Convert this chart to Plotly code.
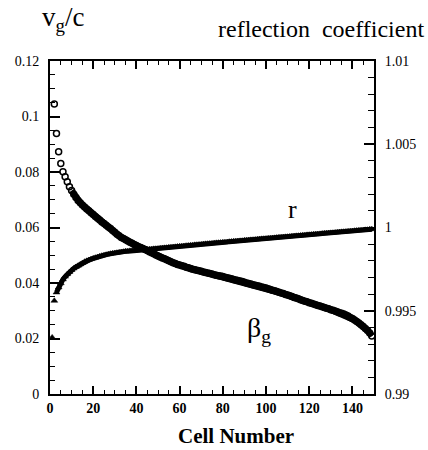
import plotly.graph_objects as go

# Cell numbers
cells_beta = list(range(2, 150))
cells_r = list(range(1, 150))

# Group velocity beta_g = v_g/c (left axis), cells 2..149
beta_g = [
    0.1045, 0.0939, 0.0873, 0.0831, 0.0801, 0.0783, 0.0765, 0.0747,
    0.0733, 0.0720, 0.0708, 0.0697,
    0.0689, 0.0681, 0.0674, 0.0667, 0.0660, 0.0653, 0.0647,
    0.0640, 0.0633, 0.0627, 0.0620, 0.0614, 0.0608, 0.0602, 0.0596,
    0.0589, 0.0583, 0.0576, 0.0570, 0.0564,
    0.0560, 0.0556, 0.0551, 0.0547, 0.0543, 0.0539, 0.0535,
    0.0531, 0.0528, 0.0524, 0.0521, 0.0517,
    0.0513, 0.0509, 0.0505, 0.0501, 0.0497,
    0.0494, 0.0490, 0.0487, 0.0484, 0.0480, 0.0477, 0.0473, 0.0470,
    0.0467, 0.0465, 0.0462, 0.0460, 0.0457, 0.0455, 0.0452,
    0.0450, 0.0448, 0.0446, 0.0444, 0.0442, 0.0440, 0.0438,
    0.0436, 0.0434, 0.0432, 0.0430, 0.0428, 0.0426, 0.0425, 0.0423,
    0.0421, 0.0419, 0.0417, 0.0415, 0.0413,
    0.0411, 0.0409, 0.0407, 0.0405, 0.0403, 0.0400, 0.0398, 0.0396,
    0.0394, 0.0392, 0.0390, 0.0388, 0.0386, 0.0384,
    0.0382, 0.0379, 0.0377, 0.0374, 0.0372, 0.0369, 0.0367, 0.0364,
    0.0362, 0.0359, 0.0357,
    0.0354, 0.0351, 0.0348, 0.0346, 0.0343, 0.0340, 0.0337,
    0.0334, 0.0332, 0.0329, 0.0327, 0.0324, 0.0322, 0.0319,
    0.0317, 0.0314, 0.0312, 0.0309, 0.0307, 0.0304, 0.0302, 0.0299,
    0.0296, 0.0293, 0.0291, 0.0288, 0.0285,
    0.0281, 0.0276, 0.0272, 0.0267,
    0.0261, 0.0256, 0.0250,
    0.0243, 0.0236, 0.0229,
    0.0220, 0.0209,
]

# Reflection coefficient r (right axis), cells 1..149
refl = [
    0.99340, 0.99560, 0.99610, 0.99640, 0.99665, 0.99688, 0.99705, 0.99720,
    0.99733, 0.99745, 0.99754, 0.99763, 0.99771, 0.99779, 0.99787, 0.99795,
    0.99800, 0.99805, 0.99810, 0.99815, 0.99819, 0.99823, 0.99827, 0.99831,
    0.99834, 0.99837, 0.99840, 0.99843, 0.99845, 0.99847, 0.99849, 0.99851,
    0.99853, 0.99855, 0.99857, 0.99858, 0.99860, 0.99861, 0.99862, 0.99863,
    0.99864, 0.99865, 0.99866, 0.99867, 0.99868,
    0.99869, 0.99870, 0.99872, 0.99873, 0.99874, 0.99876, 0.99877, 0.99878,
    0.99879, 0.99881, 0.99882, 0.99883, 0.99884, 0.99886, 0.99887, 0.99888,
    0.99889, 0.99891, 0.99892, 0.99893, 0.99894, 0.99896, 0.99897, 0.99898,
    0.99899, 0.99901, 0.99902,
    0.99903, 0.99904, 0.99905, 0.99907, 0.99908, 0.99909, 0.99910, 0.99911,
    0.99912, 0.99913, 0.99915, 0.99916, 0.99917, 0.99918, 0.99919, 0.99920,
    0.99921, 0.99923, 0.99924, 0.99925, 0.99926, 0.99927, 0.99928, 0.99929,
    0.99931, 0.99932, 0.99933, 0.99934, 0.99935, 0.99936, 0.99937, 0.99938,
    0.99940, 0.99941, 0.99942, 0.99943, 0.99944, 0.99945, 0.99946, 0.99948,
    0.99949, 0.99950, 0.99951, 0.99952, 0.99953, 0.99954, 0.99956, 0.99957,
    0.99958, 0.99959, 0.99960, 0.99961, 0.99962, 0.99964, 0.99965, 0.99966,
    0.99967, 0.99968, 0.99969, 0.99970, 0.99971, 0.99973, 0.99974, 0.99975,
    0.99976, 0.99977, 0.99978, 0.99979, 0.99981, 0.99982, 0.99983, 0.99984,
    0.99985, 0.99986, 0.99987, 0.99989, 0.99990,
]

x_ticks = [0, 20, 40, 60, 80, 100, 120, 140]
y_ticks = [0, 0.02, 0.04, 0.06, 0.08, 0.1, 0.12]
y_ticktext = ["0", "0.02", "0.04", "0.06", "0.08", "0.1", "0.12"]
y2_ticks = [0.99, 0.995, 1.0, 1.005, 1.01]
y2_ticktext = ["0.99", "0.995", "1", "1.005", "1.01"]

SERIF = "Liberation Serif, Times New Roman, Times, serif"

# where the overlapping markers merge into a solid band
BETA_SOLID_FROM = 10
R_SOLID_FROM = 3

fig = go.Figure()
bi = cells_beta.index(BETA_SOLID_FROM)
fig.add_trace(go.Scatter(
    x=cells_beta[bi:], y=beta_g[bi:], mode="lines",
    line=dict(color="black", width=6.5), yaxis="y", hoverinfo="skip",
))
ri = cells_r.index(R_SOLID_FROM)
fig.add_trace(go.Scatter(
    x=cells_r[ri:], y=refl[ri:], mode="lines",
    line=dict(color="black", width=5), yaxis="y2", hoverinfo="skip",
))
fig.add_trace(go.Scatter(
    x=cells_beta, y=beta_g, mode="markers", name="beta_g",
    marker=dict(symbol="circle-open", size=6, color="black",
                line=dict(width=1.5, color="black")),
    yaxis="y",
))
fig.add_trace(go.Scatter(
    x=cells_r, y=refl, mode="markers", name="r",
    marker=dict(symbol="triangle-up", size=6, color="black",
                line=dict(width=0.5, color="black")),
    yaxis="y2",
))

fig.update_layout(
    width=428, height=450,
    margin=dict(l=50, r=44, t=61, b=56),
    paper_bgcolor="white", plot_bgcolor="white",
    showlegend=False,
    font=dict(family=SERIF, color="black", size=14),
    xaxis=dict(
        range=[0, 150], tickvals=x_ticks, ticks="inside", ticklen=8, tickwidth=1.5,
        tickcolor="black", showline=True, linecolor="black", linewidth=2,
        mirror="ticks", showgrid=False, zeroline=False,
        tickfont=dict(family=SERIF, size=14, weight="bold", color="black"),
        minor=dict(dtick=5, ticks="inside", ticklen=4, tickwidth=1.2, tickcolor="black",
                   showgrid=False),
    ),
    yaxis=dict(
        range=[0, 0.12], tickvals=y_ticks, ticktext=y_ticktext, ticks="inside",
        ticklen=10, tickwidth=1.5, tickcolor="black", showline=True,
        linecolor="black", linewidth=2, showgrid=False, zeroline=False,
        tickfont=dict(family=SERIF, size=14, color="black"), ticklabelstandoff=6,
        minor=dict(dtick=0.005, ticks="inside", ticklen=5, tickwidth=1.2,
                   tickcolor="black", showgrid=False),
    ),
    yaxis2=dict(
        range=[0.99, 1.01], tickvals=y2_ticks, ticktext=y2_ticktext,
        overlaying="y", side="right", ticks="inside", ticklen=10, tickwidth=1.5,
        tickcolor="black", showline=True, linecolor="black", linewidth=2,
        showgrid=False, zeroline=False,
        tickfont=dict(family=SERIF, size=14, color="black"), ticklabelstandoff=6,
        minor=dict(dtick=0.001, ticks="inside", ticklen=6, tickwidth=1.2,
                   tickcolor="black", showgrid=False),
    ),
    annotations=[
        dict(text="v<sub>g</sub>/c", xref="paper", yref="paper", x=-0.03, y=1.125,
             xanchor="left", yanchor="middle", showarrow=False,
             font=dict(family=SERIF, size=27)),
        dict(text="reflection  coefficient", xref="paper", yref="paper", x=1.16, y=1.095,
             xanchor="right", yanchor="middle", showarrow=False,
             font=dict(family=SERIF, size=24)),
        dict(text="r", xref="paper", yref="paper", x=0.749, y=0.553,
             xanchor="center", yanchor="middle", showarrow=False,
             font=dict(family=SERIF, size=26)),
        dict(text="β<sub>g</sub>", xref="paper", yref="paper", x=0.645, y=0.195,
             xanchor="center", yanchor="middle", showarrow=False,
             font=dict(family=SERIF, size=28)),
        dict(text="Cell Number", xref="paper", yref="paper", x=0.575, y=-0.126,
             xanchor="center", yanchor="middle", showarrow=False,
             font=dict(family=SERIF, size=21, weight="bold")),
    ],
)

fig.write_html("out.html")
